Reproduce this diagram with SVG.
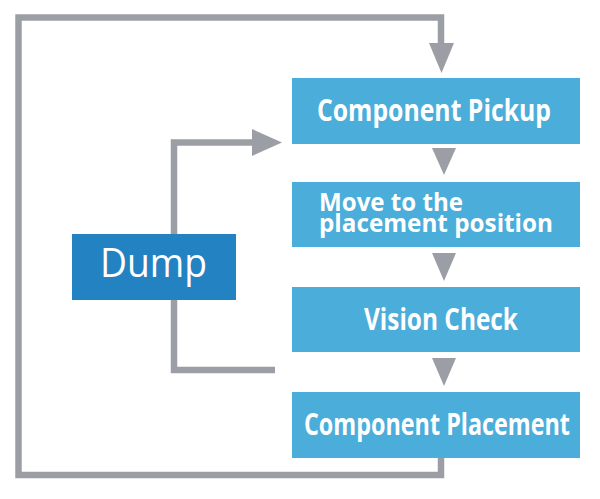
<svg xmlns="http://www.w3.org/2000/svg" width="600" height="499" viewBox="0 0 600 499">
<style>
.box{fill:#4badd9}
.dump{fill:#2382c2}
.line{fill:none;stroke:#9b9ea5;stroke-width:6.5;stroke-linejoin:miter;stroke-linecap:butt}
.head{fill:#9b9ea5}
.t{font-family:"Open Sans","Noto Sans",sans-serif;font-weight:bold;fill:#ffffff;font-size:30px}
.t2{font-family:"Open Sans","Noto Sans",sans-serif;font-weight:bold;fill:#ffffff;font-size:25px}
.td{font-family:"Open Sans","Noto Sans",sans-serif;font-weight:normal;fill:#ffffff;font-size:40px}
</style>
<rect width="600" height="499" fill="#ffffff"/>
<g id="connectors">
<polyline class="line" points="441,44 441,17.5 18.5,17.5 18.5,475 441,475 441,458"/>
<polygon class="head" points="429,43 454,43 441.5,73"/>
<polyline class="line" points="174,234 174,142.5 253,142.5"/>
<polygon class="head" points="252,129 282,142.5 252,156"/>
<polyline class="line" points="174,300 174,370 275,370"/>
<polygon class="head" points="432,148 456,148 444,175"/>
<polygon class="head" points="432,253 456,253 444,281"/>
<polygon class="head" points="432,358 456,358 444,386"/>
</g>
<g id="pickup">
<rect class="box" x="292" y="78" width="288" height="66"/>
<text class="t" x="317" y="121" textLength="234" lengthAdjust="spacingAndGlyphs">Component Pickup</text>
</g>
<g id="move">
<rect class="box" x="292" y="182" width="288" height="65"/>
<text class="t2" x="319" y="211" textLength="144" lengthAdjust="spacingAndGlyphs">Move to the</text>
<text class="t2" x="319" y="232" textLength="234" lengthAdjust="spacingAndGlyphs">placement position</text>
</g>
<g id="vision">
<rect class="box" x="292" y="287" width="288" height="65"/>
<text class="t" x="364" y="330" textLength="154" lengthAdjust="spacingAndGlyphs">Vision Check</text>
</g>
<g id="placement">
<rect class="box" x="292" y="392" width="288" height="66"/>
<text class="t" x="304" y="435" textLength="266" lengthAdjust="spacingAndGlyphs">Component Placement</text>
</g>
<g id="dump">
<rect class="dump" x="72" y="234" width="164" height="66"/>
<text class="td" x="100" y="277" textLength="107" lengthAdjust="spacingAndGlyphs">Dump</text>
</g>
</svg>
